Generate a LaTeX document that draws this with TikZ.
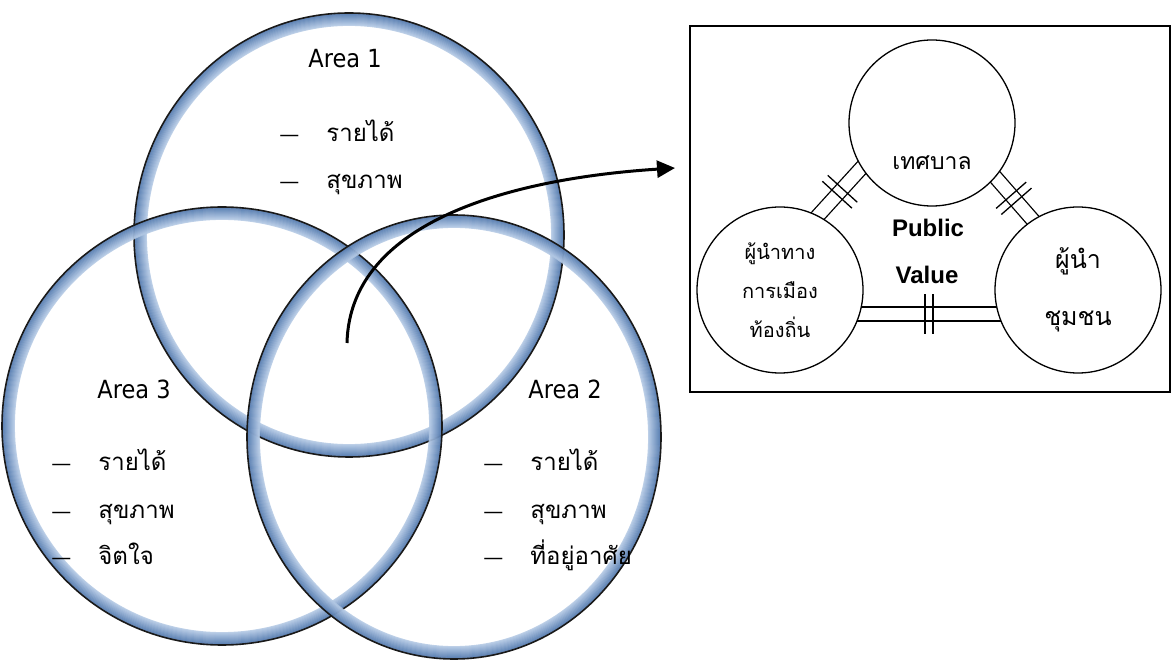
\documentclass[tikz,border=0pt]{standalone}
\usepackage{fontspec}
\setmainfont{DejaVu Sans}
\newfontfamily\areafont{DejaVu Sans Condensed}
\newfontfamily\thaifont[Script=Thai]{Loma}
\newfontfamily\pvfont{Liberation Sans}
\usetikzlibrary{arrows.meta, backgrounds, decorations.markings}

\definecolor{ringdark}{RGB}{78,118,172}
\definecolor{ringlight}{RGB}{196,214,238}
\newcommand{\itemdash}{\makebox[23.5pt][l]{\fontsize{10}{12}\selectfont\rmfamily ---}}

\begin{document}
\begin{tikzpicture}[x=0.5pt, y=-0.5pt,
    areatitle/.style={font=\areafont\fontsize{12.5}{15}\selectfont, anchor=base, inner sep=0pt},
    item/.style={font=\thaifont\fontsize{12}{14}\selectfont, anchor=base west, inner sep=0pt},
    actor/.style={circle, draw, line width=0.65pt, fill=white, minimum size=83pt, inner sep=0pt, align=center},
    link/.style={double, double distance=6.3pt, line width=0.65pt},
    ticks/.style={postaction={decorate}, decoration={markings, mark=at position 0.5 with {\draw[line width=0.65pt] (-2pt,-10pt) -- (-2pt,10pt) (2pt,-10pt) -- (2pt,10pt);}}},
    flow/.style={-{Triangle[length=9pt,width=8.5pt]}, line width=1.5pt}]
  \useasboundingbox (0,0) rectangle (1173,662);

  % Venn rings
  \foreach \cx/\cy/\rx/\ry in {349/235/215/222, 222/426/220/219, 454/437/207/222}{
    \foreach \k in {1,...,12}{
      \pgfmathtruncatemacro\p{100-\k*7}
      \draw[ringdark!\p!ringlight, line width=0.9pt, opacity=0.85] (\cx,\cy) ellipse [x radius=\rx-\k, y radius=\ry-\k];
    }
    \draw[black!90, line width=0.8pt] (\cx,\cy) ellipse [x radius=\rx, y radius=\ry];
  }

  % Areas
  \node[areatitle] (area1) at (345,68) {Area 1};
  \node[item] (area1a) at (279,142) {\itemdash รายได้};
  \node[item] (area1b) at (279,189) {\itemdash สุขภาพ};

  \node[areatitle] (area3) at (134,399) {Area 3};
  \node[item] (area3a) at (51,471) {\itemdash รายได้};
  \node[item] (area3b) at (51,518) {\itemdash สุขภาพ};
  \node[item] (area3c) at (51,565) {\itemdash จิตใจ};

  \node[areatitle] (area2) at (565,399) {Area 2};
  \node[item] (area2a) at (483,471) {\itemdash รายได้};
  \node[item] (area2b) at (483,518) {\itemdash สุขภาพ};
  \node[item] (area2c) at (483,565) {\itemdash ที่อยู่อาศัย};

  % Arrow to the panel
  \coordinate (core) at (347,343);
  \coordinate (tip) at (675,168);
  \draw[flow] (core) .. controls +(3,-125) and +(-155,10) .. (tip);

  % Panel
  \draw[line width=1pt] (690,26) rectangle (1170,392);
  \node[actor] (tc) at (932,123) {};
  \node[actor, font=\thaifont\fontsize{10}{19.5}\selectfont] (lc) at (780,290) {ผู้นำทาง\\การเมือง\\ท้องถิ่น};
  \node[actor, font=\thaifont\fontsize{12.5}{28.5}\selectfont] (rc) at (1078,290) {ผู้นำ\\ชุมชน};
  \node[font=\thaifont\fontsize{11.5}{15}\selectfont] (tclabel) at (932,163) {เทศบาล};
  \node[font=\pvfont\bfseries\fontsize{12}{14}\selectfont] (pub) at (928,228) {Public};
  \node[font=\pvfont\bfseries\fontsize{12}{14}\selectfont] (val) at (927,275) {Value};

  % Links between the actors
  \begin{scope}[on background layer]
    \draw[link] ([shift={(-16,-15)}]lc.center) -- ([shift={(-16,-15)}]tc.center);
    \draw[link] ([shift={(9,-8)}]tc.center) -- ([shift={(9,-8)}]rc.center);
    \draw[link] ([shift={(0,24)}]lc.center) -- ([shift={(0,24)}]rc.center);
  \end{scope}
  \path[ticks] ([shift={(-16,-15)}]lc.center) -- ([shift={(-16,-15)}]tc.center);
  \path[ticks] ([shift={(9,-8)}]tc.center) -- ([shift={(9,-8)}]rc.center);
  \path[ticks] ([shift={(0,24)}]lc.center) -- ([shift={(0,24)}]rc.center);
\end{tikzpicture}
\end{document}
